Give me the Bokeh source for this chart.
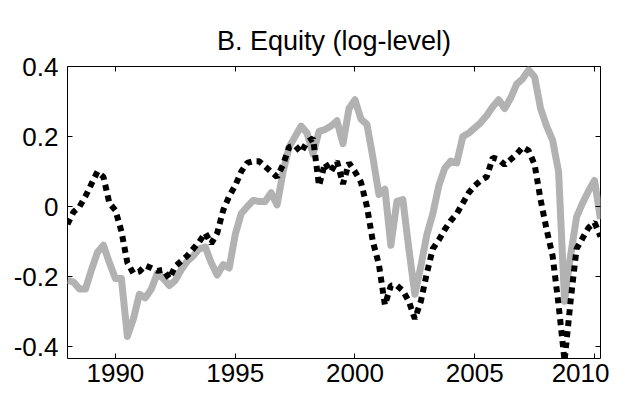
import numpy as np
from bokeh.plotting import figure
from bokeh.models import Range1d, FixedTicker, LinearAxis, CustomJSTickFormatter
from bokeh.embed import file_html
from bokeh.resources import INLINE

# quarterly dates 1988Q1 .. 2010Q2
start_year = 1988.0
n_quarters = 90

# gray solid series
gray_vals = [
    -0.21, -0.215, -0.235, -0.235, -0.18, -0.13, -0.11, -0.16,      # 1988-1989
    -0.205, -0.205, -0.37, -0.32, -0.25, -0.26, -0.235, -0.19,      # 1990-1991
    -0.205, -0.225, -0.21, -0.18, -0.155, -0.14, -0.12, -0.115,     # 1992-1993
    -0.16, -0.195, -0.165, -0.175, -0.08, -0.02, 0.0, 0.018,        # 1994-1995
    0.015, 0.015, 0.04, 0.005, 0.1, 0.17, 0.2, 0.23,                # 1996-1997
    0.21, 0.15, 0.215, 0.22, 0.23, 0.245, 0.18, 0.28,               # 1998-1999
    0.305, 0.25, 0.235, 0.14, 0.035, 0.05, -0.11, 0.015,            # 2000-2001
    0.02, -0.12, -0.25, -0.17, -0.08, -0.02, 0.06, 0.11,            # 2002-2003
    0.13, 0.125, 0.2, 0.21, 0.225, 0.24, 0.26, 0.285,               # 2004-2005
    0.305, 0.28, 0.31, 0.35, 0.365, 0.39, 0.37, 0.28,               # 2006-2007
    0.23, 0.19, 0.1, -0.27, -0.14, -0.03, 0.01, 0.045,              # 2008-2009
    0.075, -0.035,                                                  # 2010
]

# black dotted series
black_vals = [
    -0.05, -0.015, 0.0, 0.03, 0.065, 0.1, 0.085, 0.01,              # 1988-1989
    -0.01, -0.07, -0.16, -0.19, -0.185, -0.168, -0.175, -0.183,     # 1990-1991
    -0.18, -0.205, -0.17, -0.155, -0.14, -0.12, -0.1, -0.075,       # 1992-1993
    -0.105, -0.075, -0.01, 0.03, 0.06, 0.1, 0.125, 0.13,            # 1994-1995
    0.13, 0.115, 0.1, 0.085, 0.12, 0.17, 0.175, 0.155,              # 1996-1997
    0.185, 0.195, 0.06, 0.125, 0.1, 0.13, 0.065, 0.125,             # 1998-1999
    0.1, 0.07, 0.0, -0.1, -0.165, -0.28, -0.225, -0.225,            # 2000-2001
    -0.24, -0.27, -0.32, -0.27, -0.19, -0.12, -0.095, -0.065,       # 2002-2003
    -0.04, -0.02, 0.01, 0.04, 0.06, 0.075, 0.085, 0.14,             # 2004-2005
    0.135, 0.12, 0.135, 0.15, 0.17, 0.16, 0.12, 0.02,               # 2006-2007
    -0.065, -0.14, -0.28, -0.44, -0.27, -0.12, -0.09, -0.06,        # 2008-2009
    -0.045, -0.085,                                                 # 2010
]

x_ticks = [1990, 1995, 2000, 2005, 2010]
y_ticks = [-0.4, -0.2, 0, 0.2, 0.4]
y_tick_labels = {-0.4: "-0.4", -0.2: "-0.2", 0: "0", 0.2: "0.2", 0.4: "0.4"}
title_text = "B. Equity (log-level)"

dates = start_year + 0.25 * np.arange(n_quarters)

p = figure(width=609, height=391, output_backend="svg", toolbar_location=None,
           x_range=Range1d(1988.0, 2010.25), y_range=Range1d(-0.433, 0.4),
           min_border_left=67, min_border_right=9, min_border_top=66,
           min_border_bottom=33, title=title_text)

p.title.align = "center"
p.title.text_font = "Liberation Sans"
p.title.text_font_size = "27px"
p.title.text_font_style = "normal"
p.title.text_color = "black"
p.title.standoff = 21

p.xgrid.visible = False
p.ygrid.visible = False
p.outline_line_color = "black"
p.outline_line_width = 1
p.outline_line_alpha = 1
p.background_fill_color = "white"
p.border_fill_color = "white"

p.line(dates, gray_vals, line_color="#b2b2b2", line_width=7, line_join="round")
p.line(dates, black_vals, line_color="black", line_width=6, line_dash="6 5",
       line_cap="butt")

for ax in p.xaxis:
    ax.ticker = FixedTicker(ticks=x_ticks)
for ax in p.yaxis:
    ax.ticker = FixedTicker(ticks=y_ticks)
    ax.major_label_overrides = y_tick_labels

for ax in list(p.xaxis) + list(p.yaxis):
    ax.major_label_text_font = "Liberation Sans"
    ax.major_label_text_font_size = "26px"
    ax.major_label_text_color = "black"
    ax.major_tick_in = 5
    ax.major_tick_out = 0
    ax.minor_tick_line_color = None
    ax.axis_line_color = None
    ax.major_tick_line_color = "black"
p.xaxis.major_label_standoff = 5
p.yaxis.major_label_standoff = 9

blank = CustomJSTickFormatter(code="return ''")
top = LinearAxis(ticker=FixedTicker(ticks=x_ticks), formatter=blank,
                 major_tick_in=5, major_tick_out=0, minor_tick_line_color=None,
                 axis_line_color=None, major_label_text_font_size="1px",
                 major_label_standoff=0)
right = LinearAxis(ticker=FixedTicker(ticks=y_ticks), formatter=blank,
                   major_tick_in=5, major_tick_out=0, minor_tick_line_color=None,
                   axis_line_color=None, major_label_text_font_size="1px",
                   major_label_standoff=0)
p.add_layout(top, "above")
p.add_layout(right, "right")

open("out.html", "w").write(file_html(p, INLINE))
